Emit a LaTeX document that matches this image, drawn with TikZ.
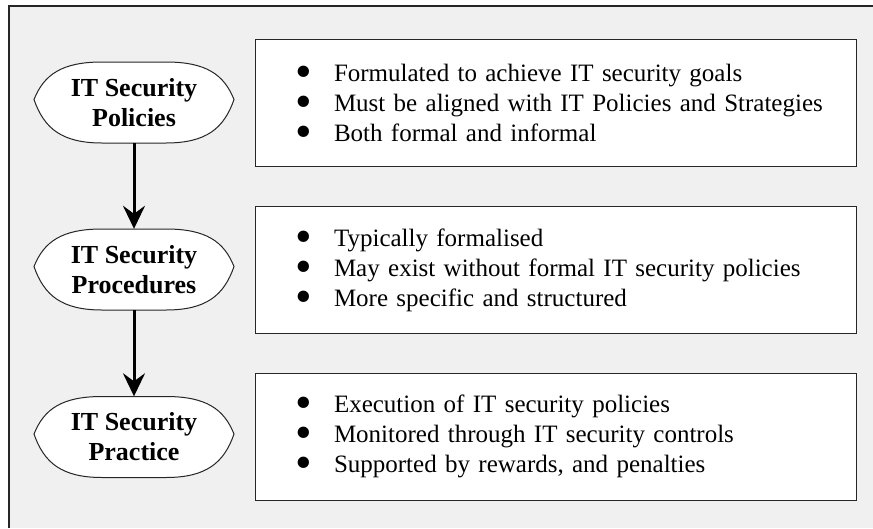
\documentclass[tikz,border=0pt]{standalone}
\usepackage{fontspec}
\setmainfont{Liberation Serif}
\usetikzlibrary{arrows.meta,backgrounds}
\tikzset{>/.tip={Stealth[length=23pt,width=22pt,inset=8pt]}}
\newcommand{\itm}[1]{\mbox{\makebox[39pt][l]{\smash{\raisebox{-6pt}{\scalebox{1.9}{\textbullet}}}}#1}}

\begin{document}
\begin{tikzpicture}[x=1pt,y=-1pt,
  stage/.style={minimum width=200pt,minimum height=81pt,align=center,
    font=\fontsize{26}{30}\selectfont\bfseries},
  stageline/.style={draw=black!85,fill=white,line width=1pt},
  descbox/.style={draw=black!85,fill=white,line width=1pt,minimum width=601pt,
    minimum height=127pt,text width=521pt,inner xsep=40pt,align=left,
    font=\fontsize{25}{30}\selectfont}]
\useasboundingbox (0,0) rectangle (873,528);
\begin{scope}[on background layer]
\fill[white] (0,0) rectangle (873,528);
\fill[black!6] (9,6) rectangle (873,528);
\draw[line width=1.2pt,black!85] (9,528) -- (9,6) -- (873,6);
\end{scope}

\node[stage] (S1) at (134,102.5) {IT Security\\Policies};
\node[stage] (S2) at (134,269.5) {IT Security\\Procedures};
\node[stage] (S3) at (134,437)   {IT Security\\Practice};

\node[descbox] (D1) at (555.5,102.5) {\itm{Formulated to achieve IT security goals}\\
  \itm{Must be aligned with IT Policies and Strategies}\\
  \itm{Both formal and informal}};
\node[descbox] (D2) at (555.5,270) {\itm{Typically formalised}\\
  \itm{May exist without formal IT security policies}\\
  \itm{More specific and structured}};
\node[descbox] (D3) at (555.5,436.5) {\itm{Execution of IT security policies}\\
  \itm{Monitored through IT security controls}\\
  \itm{Supported by rewards, and penalties}};

% outline of the stage shapes
\begin{scope}[on background layer]
\foreach \n in {S1,S2,S3}
  \draw[stageline,shift={(\n.center)}] (-100,-3) .. controls (-90,-28) and (-72,-40.5) .. (-32,-40.5)
    -- (32,-40.5) .. controls (72,-40.5) and (90,-28) .. (100,-3)
    .. controls (90,26) and (72,40.5) .. (32,40.5)
    -- (-32,40.5) .. controls (-72,40.5) and (-90,26) .. cycle;
\end{scope}

\path[->,line width=3pt] (S1) edge (S2);
\path[->,line width=3pt] (S2) edge (S3);
\end{tikzpicture}
\end{document}
